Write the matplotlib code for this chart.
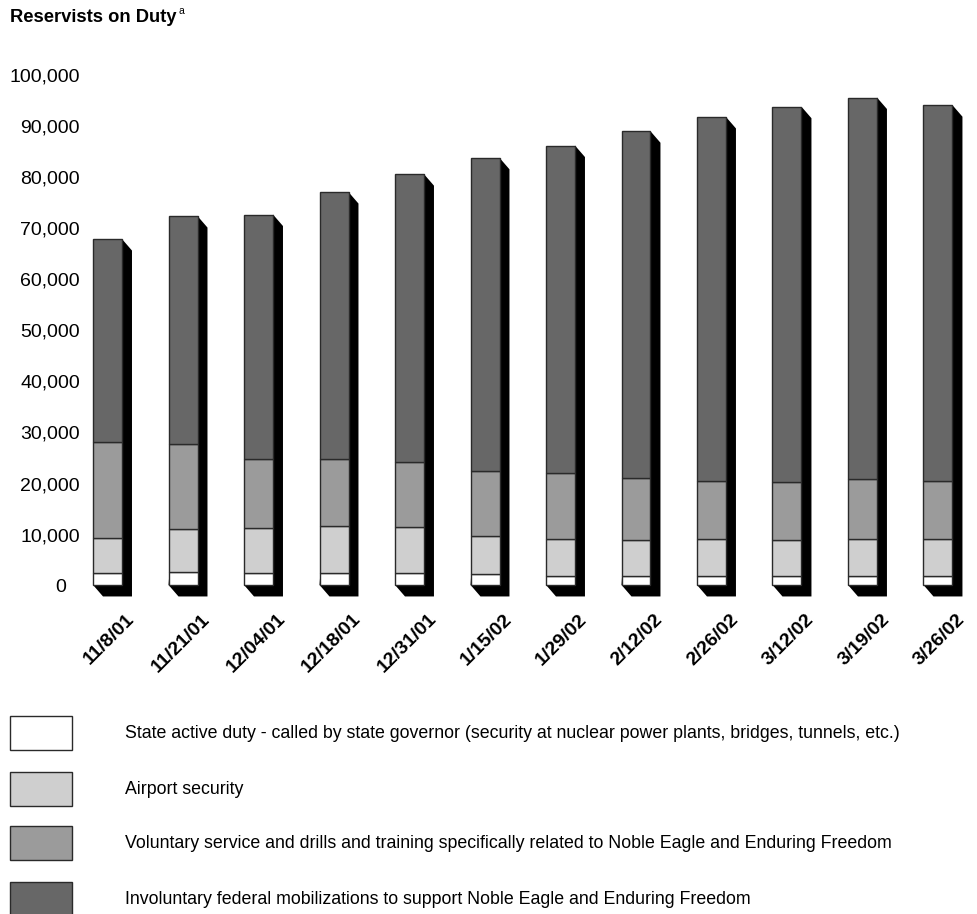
import matplotlib
matplotlib.use("Agg")
import matplotlib.pyplot as plt
from matplotlib.patches import Polygon, Rectangle

# --- data ------------------------------------------------------------------
dates = ["11/8/01", "11/21/01", "12/04/01", "12/18/01", "12/31/01", "1/15/02",
         "1/29/02", "2/12/02", "2/26/02", "3/12/02", "3/19/02", "3/26/02"]
state = [2300, 2600, 2300, 2400, 2300, 2200, 1700, 1700, 1700, 1700, 1700, 1700]
airport = [6800, 8400, 8900, 9100, 9000, 7300, 7300, 7100, 7200, 7100, 7200, 7200]
voluntary = [18800, 16500, 13500, 13200, 12800, 12900, 12900, 12200, 11500,
             11400, 11800, 11400]
involuntary = [39800, 44700, 47800, 52200, 56300, 61200, 64100, 67800, 71200,
               73400, 74700, 73600]
yticks = list(range(0, 100001, 10000))
legend_labels = [
    "State active duty - called by state governor (security at nuclear power plants, bridges, tunnels, etc.)",
    "Airport security",
    "Voluntary service and drills and training specifically related to Noble Eagle and Enduring Freedom",
    "Involuntary federal mobilizations to support Noble Eagle and Enduring Freedom",
]
colors = ["#ffffff", "#cfcfcf", "#9b9b9b", "#676767"]
edge = "#2a2a2a"

plt.rcParams["font.family"] = ["Liberation Sans", "DejaVu Sans"]

W, H = 978, 914
fig = plt.figure(figsize=(W / 100, H / 100), dpi=100)


def fx(px):
    return px / W


def fy(py):
    return 1 - py / H


# axes placed so that 0 sits at y=585px and 100,000 at y=74px
ax = fig.add_axes([fx(70), fy(605.4), (978 - 70) / W, (605.4 - 63.8) / H])
ax.set_xlim(-0.497, 11.53)
ax.set_ylim(-4000, 102000)
ax.axis("off")

x = list(range(len(dates)))
width = 0.384
dx, dy = 0.132, 2250  # depth of the 3-D shadow

series = [state, airport, voluntary, involuntary]
totals = [sum(v) for v in zip(*series)]

for i, top in zip(x, totals):
    x0, x1 = i - width / 2, i + width / 2
    shadow = Polygon([(x0, 0), (x0 + dx, -dy), (x1 + dx, -dy), (x1 + dx, top - dy),
                      (x1, top)], closed=True, facecolor="black", edgecolor="none",
                     zorder=2, clip_on=False)
    ax.add_patch(shadow)

bottom = [0] * len(dates)
for vals, c in zip(series, colors):
    ax.bar(x, vals, width, bottom=bottom, color=c, edgecolor=edge, linewidth=1.0,
           zorder=3)
    bottom = [b + v for b, v in zip(bottom, vals)]

# y tick labels (sit a touch below their value, as in the original)
ytr = ax.get_yaxis_transform()
for t in yticks:
    lab = f"{t:,}"
    xa = 0.011 if t else -0.0044
    ax.text(xa, t - 550, lab, transform=ytr, ha="right", va="center", fontsize=14)

# x tick labels, rotated
for i, d in zip(x, dates):
    ax.text(i + 0.32, -6200, d, rotation=45, ha="right", va="center",
            rotation_mode="anchor", fontsize=14, fontweight="bold")

# title
fig.text(fx(10), fy(18), "Reservists on Duty", fontweight="bold", fontsize=13.2,
         va="center", ha="left")
fig.text(fx(179), fy(11), "a", fontsize=7.5, va="center", ha="left")

# legend
box_tops = [716, 772, 826, 882]
for top, c, lab in zip(box_tops, colors, legend_labels):
    fig.add_artist(Rectangle((fx(10), fy(top + 34)), 62 / W, 34 / H,
                             transform=fig.transFigure, facecolor=c,
                             edgecolor=edge, linewidth=1.0))
    fig.text(fx(125), fy(top + 17), lab, fontsize=12.8, va="center", ha="left")

fig.savefig("out.png", dpi=100)
